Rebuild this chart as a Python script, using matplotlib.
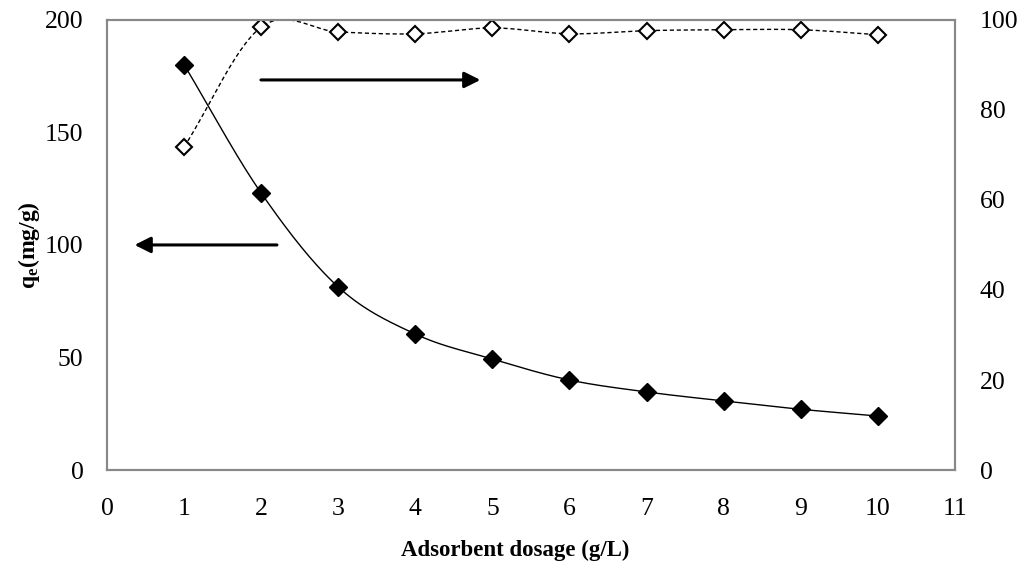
import numpy as np
import matplotlib.pyplot as plt

plt.rcParams['font.family'] = ['Liberation Serif', 'DejaVu Serif']
plt.rcParams['mathtext.fontset'] = 'custom'
plt.rcParams['mathtext.rm'] = 'Liberation Serif'
plt.rcParams['mathtext.bf'] = 'Liberation Serif:bold'

dosage = [1, 2, 3, 4, 5, 6, 7, 8, 9, 10]
qe = [180, 123, 81.3, 60.4, 49.3, 40, 34.7, 30.7, 27, 24]
removal = [71.8, 98.4, 97.3, 96.9, 98.2, 96.9, 97.6, 97.8, 97.8, 96.7]


def smooth(x, y, n=30):
    # Catmull-Rom curve through the points, like Excel's smoothed line
    x = np.asarray(x, float)
    y = np.asarray(y, float)
    px = np.concatenate([[2 * x[0] - x[1]], x, [2 * x[-1] - x[-2]]])
    py = np.concatenate([[2 * y[0] - y[1]], y, [2 * y[-1] - y[-2]]])
    t = np.linspace(0, 1, n)
    xs, ys = [], []
    for i in range(1, len(px) - 2):
        for p, out in ((px, xs), (py, ys)):
            p0, p1, p2, p3 = p[i - 1], p[i], p[i + 1], p[i + 2]
            out.extend(0.5 * (2 * p1 + (-p0 + p2) * t
                              + (2 * p0 - 5 * p1 + 4 * p2 - p3) * t ** 2
                              + (-p0 + 3 * p1 - 3 * p2 + p3) * t ** 3))
    return np.array(xs), np.array(ys)


fig, ax = plt.subplots(figsize=(10.3, 5.67), dpi=100)
fig.subplots_adjust(left=0.104, right=0.927, top=0.965, bottom=0.171)
ax2 = ax.twinx()

sx, sy = smooth(dosage, qe)
ax.plot(sx, sy, color='black', lw=1)
ax.plot(dosage, qe, 'D', color='black', markersize=9)

rx, ry = smooth(dosage, removal)
ax2.plot(rx, ry, color='black', lw=1, ls=(0, (3, 2)))
ax2.plot(dosage, removal, 'D', mfc='white', mec='black', mew=1.5, markersize=8.5, ls='none')

ax.set_xlim(0, 11)
ax.set_ylim(0, 200)
ax2.set_ylim(0, 100)
ax.set_xticks(range(0, 12))
ax.set_yticks([0, 50, 100, 150, 200])
ax2.set_yticks([0, 20, 40, 60, 80, 100])

for a in (ax, ax2):
    a.tick_params(length=0, labelsize=18.5)
    for s in a.spines.values():
        s.set_color('#888888')
        s.set_linewidth(1.5)
ax.tick_params(axis='y', pad=17)
ax.tick_params(axis='x', pad=20)
ax2.tick_params(axis='y', pad=18)

ax.set_xlabel('Adsorbent dosage (g/L)', fontsize=16.5, fontweight='bold')
ax.xaxis.set_label_coords(0.481, -0.156)
ax.set_ylabel(r'$\mathbf{q_e}$(mg/g)', fontsize=17, fontweight='bold', labelpad=2)

ax.annotate('', xy=(4.88, 173.3), xytext=(1.96, 173.3),
            arrowprops=dict(arrowstyle='-|>', color='black', lw=2.2, mutation_scale=24))
ax.annotate('', xy=(0.32, 100), xytext=(2.24, 100),
            arrowprops=dict(arrowstyle='-|>', color='black', lw=2.2, mutation_scale=24))

plt.savefig('out.png')
